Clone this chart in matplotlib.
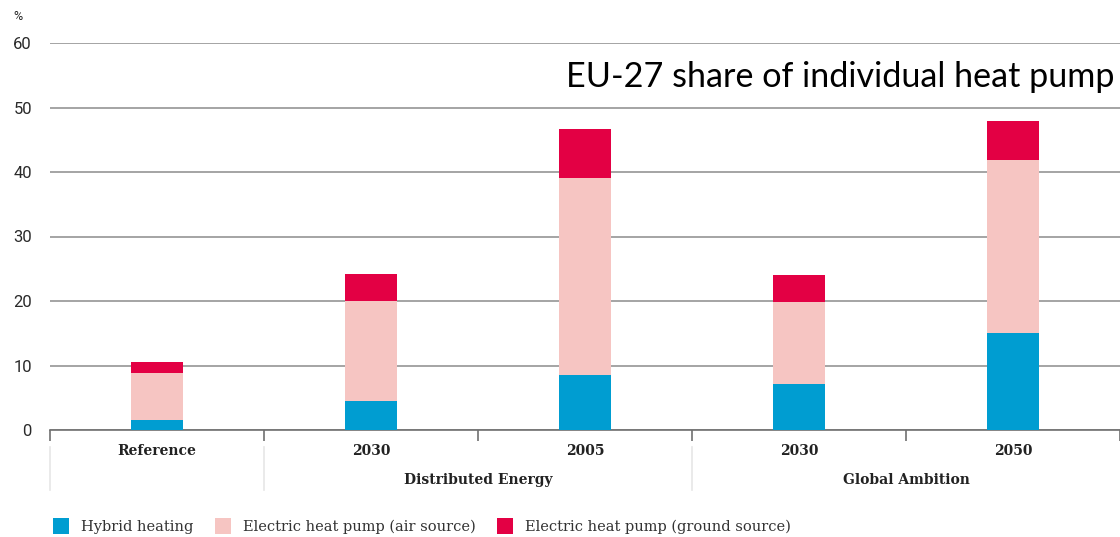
import matplotlib.pyplot as plt
import numpy as np
from matplotlib.patches import Patch

# Данные: доли индивидуальных тепловых насосов, %
years = ['Reference', '2030', '2005', '2030', '2050']
groups = ['Distributed Energy', 'Global Ambition']
hybrid = [1.55, 4.55, 8.5, 7.1, 15.0]
air_source = [7.25, 15.45, 30.6, 12.8, 26.9]
ground_source = [1.7, 4.2, 7.5, 4.2, 6.0]
series_names = ['Hybrid heating', 'Electric heat pump (air source)',
                'Electric heat pump (ground source)']
colors = ['#009dd1', '#f6c5c2', '#e30044']

fig = plt.figure(figsize=(11.2, 5.37), dpi=100)
ax = fig.add_axes([50 / 1120, 1 - 430 / 537, 1070 / 1120, 387 / 537])

x = np.arange(len(years))
w = 0.24
bottom = np.zeros(len(years))
for vals, c in zip([hybrid, air_source, ground_source], colors):
    ax.bar(x, vals, w, bottom=bottom, color=c, zorder=3)
    bottom += np.array(vals)

ax.set_xlim(-0.5, 4.5)
ax.set_ylim(0, 60)
ax.set_yticks(range(0, 61, 10))
ax.yaxis.grid(True, color='#8c8c8c', linewidth=1.1, zorder=0)
for s in ['top', 'right', 'left']:
    ax.spines[s].set_visible(False)
ax.spines['bottom'].set_color('#707070')
ax.spines['bottom'].set_linewidth(1.2)
ax.tick_params(axis='y', length=0, pad=13, labelsize=12, labelcolor='#2a2a2a')
for lbl in ax.get_yticklabels():
    lbl.set_fontfamily('Roboto')

# Засечки на границах категорий
ax.set_xticks(np.arange(-0.5, 4.6, 1.0))
ax.set_xticklabels([])
ax.tick_params(axis='x', length=8, width=1.2, color='#707070')

# Подписи категорий и групп
for xi, lab in zip(x, years):
    ax.text(xi, -3.3, lab, ha='center', va='center', fontsize=10,
            fontweight='bold', family='DejaVu Serif', color='#222222')
ax.text(1.5, -7.8, groups[0], ha='center', va='center', fontsize=10,
        fontweight='bold', family='DejaVu Serif', color='#222222')
ax.text(3.5, -7.8, groups[1], ha='center', va='center', fontsize=10,
        fontweight='bold', family='DejaVu Serif', color='#222222')
for xs in [-0.5, 0.5, 2.5]:
    ax.plot([xs, xs], [-2.6, -9.3], color='#e6e6e6', linewidth=1.2,
            clip_on=False)

fig.text(18 / 1120, 1 - 16 / 537, '%', ha='center', va='center',
         fontsize=9, family='Roboto', color='#222222')
fig.text(1115 / 1120, 1 - 77 / 537, 'EU-27 share of individual heat pump',
         ha='right', va='center', fontsize=24.6, family='Lato', color='black')

handles = [Patch(facecolor=c) for c in colors]
leg = fig.legend(handles, series_names, loc='center left',
                 bbox_to_anchor=(40 / 1120, 1 - 526 / 537), ncol=3,
                 frameon=False, handlelength=1.1, handleheight=1.3,
                 handletextpad=0.8, columnspacing=1.5,
                 prop={'family': 'DejaVu Serif', 'size': 10.5})
for t in leg.get_texts():
    t.set_color('#333333')

fig.savefig('out.png', dpi=100)
